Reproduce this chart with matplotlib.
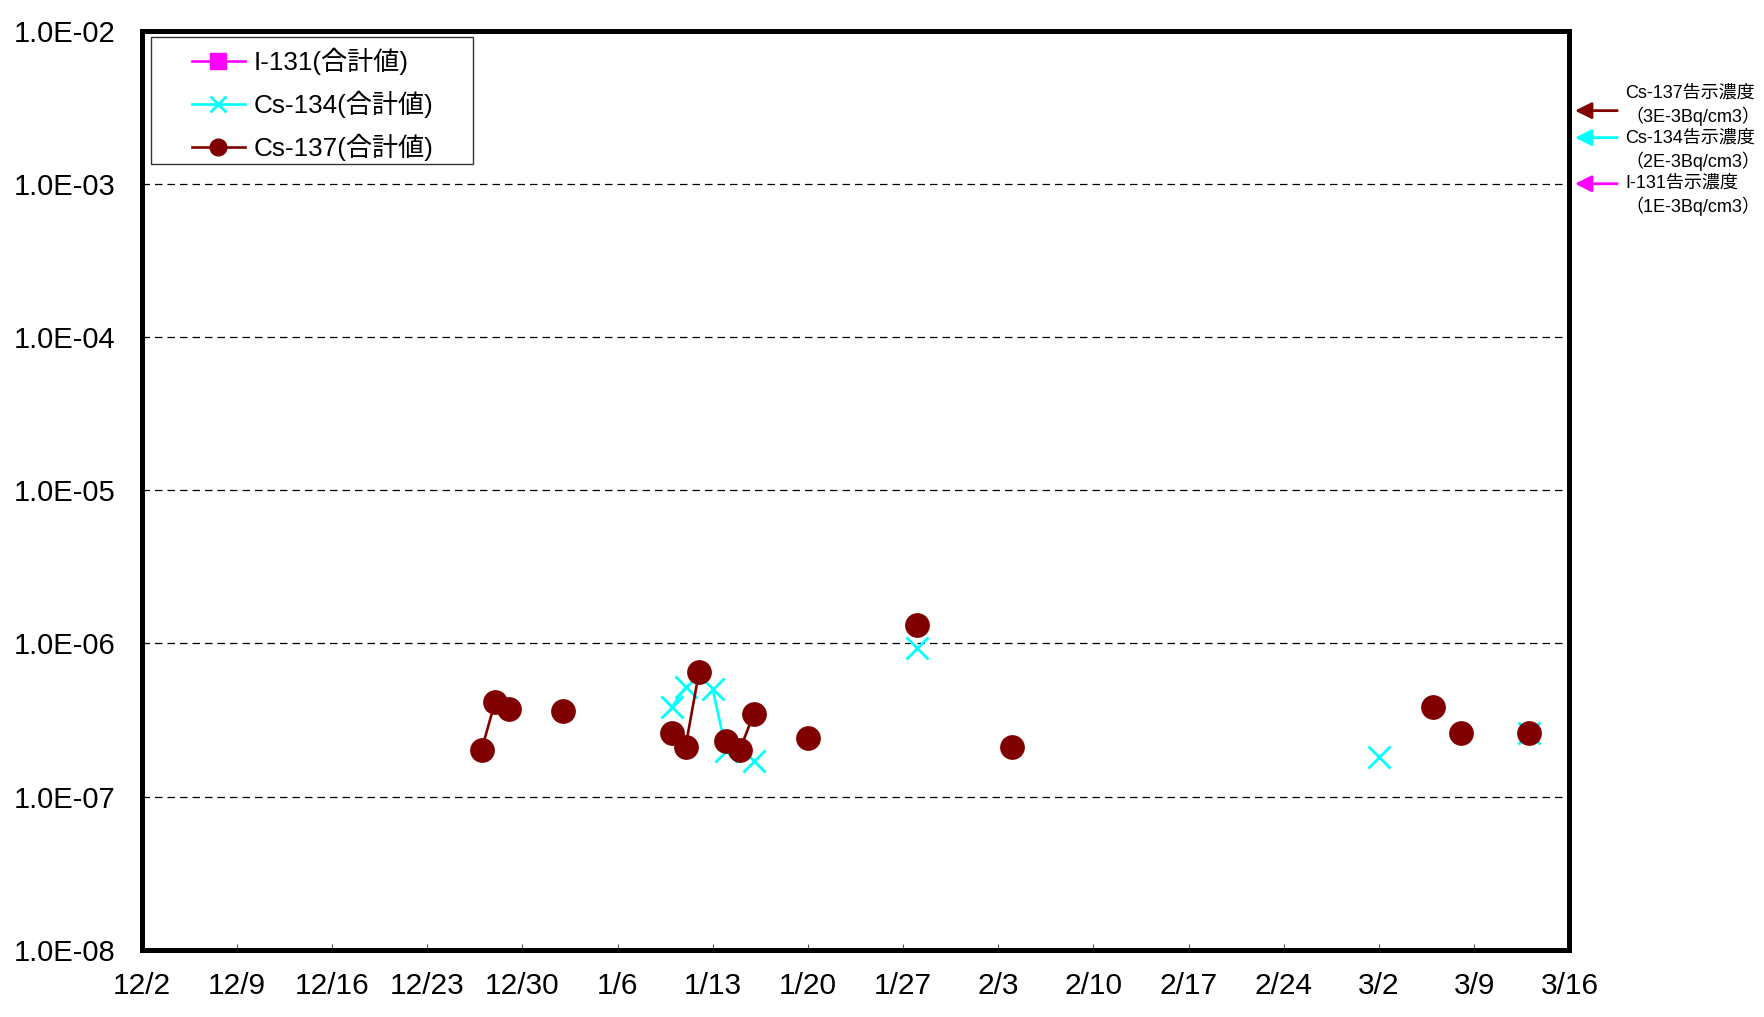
import matplotlib
matplotlib.use("Agg")
import matplotlib.pyplot as plt
import matplotlib.dates as mdates
import matplotlib.patches as mpatches
import matplotlib.ticker as mticker
import numpy as np
import pandas as pd

# ---------------- data ----------------
i131_dates = []
i131_values = []

cs134_dates = ["2012-01-10", "2012-01-11", "2012-01-13", "2012-01-14", "2012-01-16",
               "2012-01-28", "2012-03-02", "2012-03-13"]
cs134_values = [3.83e-7, 5.18e-7, 5.03e-7, 1.99e-7, 1.71e-7,
                9.4e-7, 1.81e-7, 2.62e-7]

cs137_dates = ["2011-12-27", "2011-12-28", "2011-12-29", "2012-01-02", "2012-01-10",
               "2012-01-11", "2012-01-12", "2012-01-14", "2012-01-15", "2012-01-16",
               "2012-01-20", "2012-01-28", "2012-02-04", "2012-03-06", "2012-03-08",
               "2012-03-13"]
cs137_values = [2.02e-7, 4.17e-7, 3.72e-7, 3.63e-7, 2.62e-7,
                2.11e-7, 6.55e-7, 2.32e-7, 2.02e-7, 3.45e-7,
                2.42e-7, 1.32e-6, 2.12e-7, 3.83e-7, 2.62e-7,
                2.62e-7]

x_tick_dates = pd.date_range("2011-12-02", "2012-03-16", freq="7D")
y_tick_values = [1e-8, 1e-7, 1e-6, 1e-5, 1e-4, 1e-3, 1e-2]

series_labels = ["I-131(合計値)", "Cs-134(合計値)", "Cs-137(合計値)"]
limit_values = [3e-3, 2e-3, 1e-3]
limit_colors = ["#800000", "#00FFFF", "#FF00FF"]
limit_texts = ["Cs-137告示濃度", "（3E-3Bq/cm3）",
               "Cs-134告示濃度", "（2E-3Bq/cm3）",
               "I-131告示濃度", "（1E-3Bq/cm3）"]


def with_gaps(dates, values):
    """Break the line where consecutive measurement days are not adjacent."""
    xs, ys = [], []
    d = pd.to_datetime(pd.Series(dates, dtype="object"))
    prev = None
    for di, v in zip(d, values):
        if prev is not None and (di - prev).days > 1:
            xs.append(np.nan)
            ys.append(np.nan)
        xs.append(mdates.date2num(di))
        ys.append(v)
        prev = di
    return np.array(xs, dtype=float), np.array(ys, dtype=float)


plt.rcParams["font.family"] = ["Liberation Sans", "Noto Sans CJK JP", "DejaVu Sans"]

fig = plt.figure(figsize=(17.65, 10.17), dpi=100)
ax = fig.add_axes([0.0802, 0.0659, 0.8090, 0.9041])

# series
xi, yi = with_gaps(i131_dates, i131_values)
h1, = ax.plot(xi, yi, color="#FF00FF", lw=1.9, marker="s", ms=12,
              label=series_labels[0], zorder=3)
x4, y4 = with_gaps(cs134_dates, cs134_values)
h2, = ax.plot(x4, y4, color="#00FFFF", lw=1.9, marker="x", ms=15.6, mew=2.0,
              label=series_labels[1], zorder=4)
x7, y7 = with_gaps(cs137_dates, cs137_values)
h3, = ax.plot(x7, y7, color="#800000", lw=1.9, marker="o", ms=16.8, mec="#800000",
              label=series_labels[2], zorder=5)

# axes
ax.set_yscale("log")
ax.set_ylim(1e-8, 1e-2)
ax.set_yticks(y_tick_values)
ax.set_yticklabels([f"{v:.1E}" for v in y_tick_values])
ax.yaxis.set_minor_locator(mticker.NullLocator())
xt = mdates.date2num(x_tick_dates)
ax.set_xticks(xt)
ax.set_xticklabels([f"{d.month}/{d.day}" for d in x_tick_dates])
ax.set_xlim(xt[0], xt[-1])

ax.tick_params(axis="x", direction="in", length=4, width=0.8, color="#555555",
               labelsize=21.5, pad=16)
ax.tick_params(axis="y", length=0, labelsize=21, pad=19)
for s in ax.spines.values():
    s.set_linewidth(3.6)
    s.set_color("black")

ax.yaxis.grid(True, which="major", linestyle=(0, (6, 4)), color="black", lw=0.9)
ax.set_axisbelow(True)

# legend with hand-drawn frame
rect = mpatches.Rectangle((0.00665, 0.8548), 0.2255, 0.1381, transform=ax.transAxes,
                          facecolor="white", edgecolor="#333333", lw=1.0, zorder=9)
ax.add_patch(rect)
leg = ax.legend(handles=[h1, h2, h3], loc="upper left", bbox_to_anchor=(0.0277, 0.993),
                borderaxespad=0, borderpad=0.4, frameon=False, fontsize=18.8,
                handlelength=2.05, handletextpad=0.32, labelspacing=0.6)
leg.set_zorder(10)
for lh in leg.legend_handles:
    lh.set_markersize(12)

# limit arrows on the right
ytr = ax.get_yaxis_transform()
for v, c in zip(limit_values, limit_colors):
    ax.annotate("", xy=(1.0039, v), xycoords=ytr, xytext=(1.0335, v), textcoords=ytr,
                arrowprops=dict(arrowstyle="-|>", color=c, lw=2.0, mutation_scale=25,
                                shrinkA=0, shrinkB=0),
                annotation_clip=False)

fig.text(1625 / 1765, 1 - 150.5 / 1017, "\n".join(limit_texts), ha="left", va="center",
         fontsize=13.0, linespacing=1.3)

fig.savefig("out.png", dpi=100)
